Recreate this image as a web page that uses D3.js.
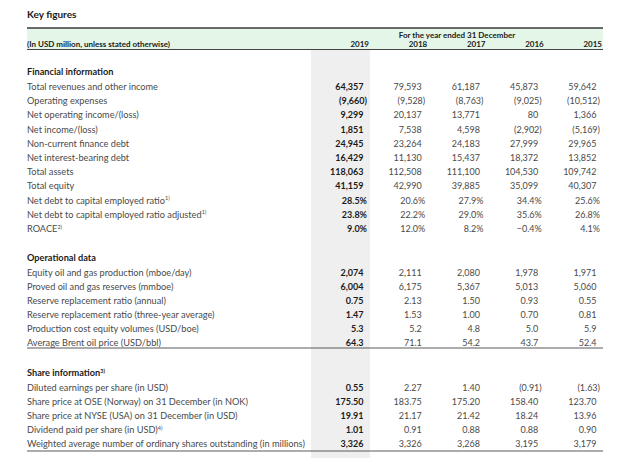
<!DOCTYPE html>
<html><head><meta charset="utf-8">
<script src="https://cdn.jsdelivr.net/npm/d3@7"></script>
<style>
html,body{margin:0;padding:0;background:#fff;}
svg{display:block;font-family:Lato,"Noto Sans",sans-serif;}
</style></head>
<body>
<svg id="chart" width="640" height="461"></svg>
<script>
const title = "Key figures";
const unitsLabel = "(In USD million, unless stated otherwise)";
const periodLabel = "For the year ended 31 December";
const years = ["2019", "2018", "2017", "2016", "2015"];

const sectionTitles = ["Financial information", "Operational data", "Share information"];
const sectionNotes = ["", "", "3)"];

const financialLabels = [
  "Total revenues and other income", "Operating expenses", "Net operating income/(loss)",
  "Net income/(loss)", "Non-current finance debt", "Net interest-bearing debt",
  "Total assets", "Total equity", "Net debt to capital employed ratio",
  "Net debt to capital employed ratio adjusted", "ROACE"];
const financialNotes = ["", "", "", "", "", "", "", "", "1)", "1)", "2)"];
const financialFormats = ["int","int","int","int","int","int","int","int","pct","pct","pct"];
const financialValues = [
  [64357, 79593, 61187, 45873, 59642],
  [-9660, -9528, -8763, -9025, -10512],
  [9299, 20137, 13771, 80, 1366],
  [1851, 7538, 4598, -2902, -5169],
  [24945, 23264, 24183, 27999, 29965],
  [16429, 11130, 15437, 18372, 13852],
  [118063, 112508, 111100, 104530, 109742],
  [41159, 42990, 39885, 35099, 40307],
  [28.5, 20.6, 27.9, 34.4, 25.6],
  [23.8, 22.2, 29.0, 35.6, 26.8],
  [9.0, 12.0, 8.2, -0.4, 4.1]];

const operationalLabels = [
  "Equity oil and gas production (mboe/day)", "Proved oil and gas reserves (mmboe)",
  "Reserve replacement ratio (annual)", "Reserve replacement ratio (three-year average)",
  "Production cost equity volumes (USD/boe)", "Average Brent oil price (USD/bbl)"];
const operationalNotes = ["", "", "", "", "", ""];
const operationalFormats = ["int","int","d2","d2","d1","d1"];
const operationalValues = [
  [2074, 2111, 2080, 1978, 1971],
  [6004, 6175, 5367, 5013, 5060],
  [0.75, 2.13, 1.50, 0.93, 0.55],
  [1.47, 1.53, 1.00, 0.70, 0.81],
  [5.3, 5.2, 4.8, 5.0, 5.9],
  [64.3, 71.1, 54.2, 43.7, 52.4]];

const shareLabels = [
  "Diluted earnings per share (in USD)", "Share price at OSE (Norway) on 31 December (in NOK)",
  "Share price at NYSE (USA) on 31 December (in USD)", "Dividend paid per share (in USD)",
  "Weighted average number of ordinary shares outstanding (in millions)"];
const shareNotes = ["", "", "", "4)", ""];
const shareFormats = ["d2","d2","d2","d2","int"];
const shareValues = [
  [0.55, 2.27, 1.40, -0.91, -1.63],
  [175.50, 183.75, 175.20, 158.40, 123.70],
  [19.91, 21.17, 21.42, 18.24, 13.96],
  [1.01, 0.91, 0.88, 0.88, 0.90],
  [3326, 3326, 3268, 3195, 3179]];

// ---------- drawing ----------
const svg = d3.select("#chart");
const left = 27, right = 603;
const boldColor = "#1b1b1b", textColor = "#4a4a4a";
const fs = 9.2;

const fmtInt = d3.format(",");
function fmt(v, type) {
  if (type === "pct") return d3.format(".1f")(v) + "%";
  let s;
  if (type === "int") s = fmtInt(Math.abs(v));
  else if (type === "d2") s = d3.format(".2f")(Math.abs(v));
  else s = d3.format(".1f")(Math.abs(v));
  return v < 0 ? "(" + s + ")" : s;
}

const x = d3.scalePoint().domain(years).range([367, 600]);

// title
svg.append("text").attr("x", left).attr("y", 18)
  .attr("font-size", 10).attr("font-weight", 700).attr("fill", boldColor).text(title);

// header band
svg.append("rect").attr("x", left).attr("y", 28).attr("width", right - left).attr("height", 21)
  .attr("fill", "#e4f6e7");
svg.append("line").attr("x1", left).attr("x2", right).attr("y1", 28).attr("y2", 28)
  .attr("stroke", "#3a3a3a").attr("stroke-width", 1.6);
svg.append("line").attr("x1", left).attr("x2", right).attr("y1", 49.5).attr("y2", 49.5)
  .attr("stroke", "#444").attr("stroke-width", 1);

svg.append("text").attr("x", 457).attr("y", 37.5).attr("text-anchor", "middle")
  .attr("font-size", 8).attr("font-weight", 700).attr("fill", boldColor).text(periodLabel);
svg.append("text").attr("x", left).attr("y", 46.5)
  .attr("font-size", 8).attr("font-weight", 700).attr("fill", boldColor).text(unitsLabel);
svg.selectAll("text.year").data(years).join("text").attr("class", "year")
  .attr("x", d => x(d) + 2).attr("y", 46.5).attr("text-anchor", "end")
  .attr("font-size", 8).attr("font-weight", 700).attr("fill", boldColor).text(d => d);

// highlighted 2019 column
svg.insert("rect", "text").attr("x", 311).attr("y", 50).attr("width", 59).attr("height", 408)
  .attr("fill", "#efefef");

const sections = [
  {title: sectionTitles[0], note: sectionNotes[0], labels: financialLabels, notes: financialNotes,
   formats: financialFormats, values: financialValues, top: 72, first: 87, last: 229, rule: null},
  {title: sectionTitles[1], note: sectionNotes[1], labels: operationalLabels, notes: operationalNotes,
   formats: operationalFormats, values: operationalValues, top: 258, first: 273, last: 342.5, rule: 348},
  {title: sectionTitles[2], note: sectionNotes[2], labels: shareLabels, notes: shareNotes,
   formats: shareFormats, values: shareValues, top: 373, first: 388, last: 444, rule: 451}
];

function addLabel(g, text, note, bold) {
  const t = g.append("text").attr("font-size", fs)
    .attr("font-weight", bold ? 700 : 400).attr("fill", bold ? boldColor : textColor);
  t.append("tspan").text(text);
  if (note) t.append("tspan").attr("font-size", 5.5).attr("dy", -3.5).text(note);
  return t;
}

sections.forEach(sec => {
  const y = d3.scalePoint().domain(d3.range(sec.labels.length)).range([sec.first, sec.last]);
  const g = svg.append("g");
  const h = g.append("g").attr("transform", `translate(${left},${sec.top + 3})`);
  addLabel(h, sec.title, sec.note, true);

  sec.labels.forEach((lab, i) => {
    const row = g.append("g").attr("transform", `translate(0,${y(i) + 3})`);
    addLabel(row.append("g").attr("transform", `translate(${left},0)`), lab, sec.notes[i], false);
    row.selectAll("text.val").data(sec.values[i]).join("text").attr("class", "val")
      .each(function(v, j) {
        const s = fmt(v, sec.formats[i]);
        const hang = /[\d]$/.test(s) ? 3.5 : 0;
        d3.select(this).attr("x", x(years[j]) - hang).attr("y", 0)
          .attr("text-anchor", "end").attr("font-size", 9)
          .attr("font-weight", j === 0 ? 700 : 400)
          .attr("fill", j === 0 ? boldColor : textColor)
          .text(s);
      });
  });
  if (sec.rule) {
    g.append("line").attr("x1", left).attr("x2", right).attr("y1", sec.rule).attr("y2", sec.rule)
      .attr("stroke", "#5a5a5a").attr("stroke-width", 1.2);
  }
});
</script>
</body></html>
